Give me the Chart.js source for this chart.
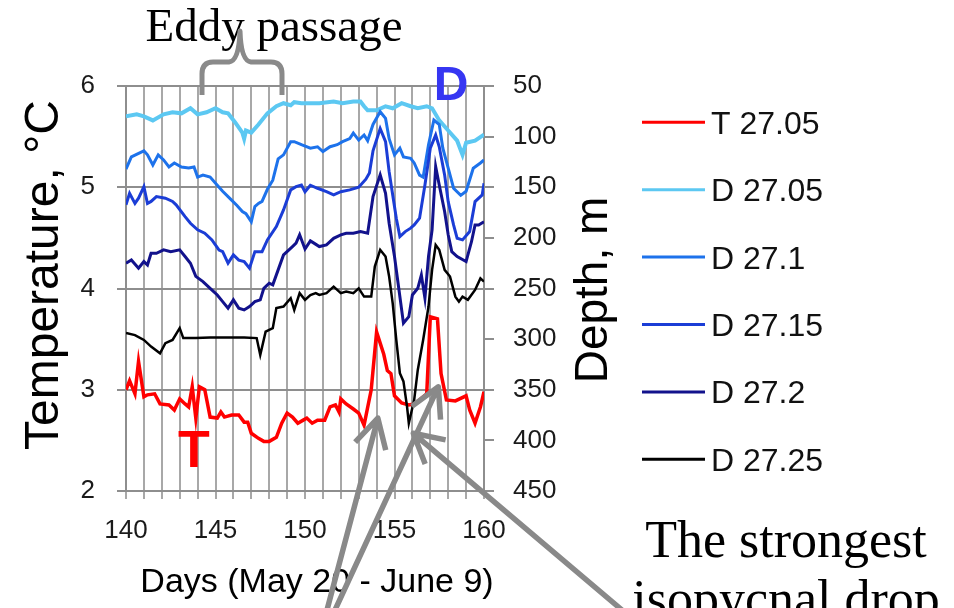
<!DOCTYPE html>
<html lang="en">
<head>
<meta charset="UTF-8">
<title>Isopycnal depths and temperature, days 140-160</title>
<script src="https://cdn.jsdelivr.net/npm/chart.js"></script>
<style>
  body { margin: 0; background: #fff; }
  #wrap { width: 954px; height: 608px; }
</style>
</head>
<body>
<div id="wrap"><canvas id="chart" width="954" height="608"></canvas></div>
<script>
// [day, value] pairs. Temperature on the 27.05 isopycnal (°C)
const t2705 = [
  [140.0, 3.00], [140.2, 3.09], [140.5, 2.96], [140.7, 3.28], [141.0, 2.93], [141.2, 2.95],
  [141.6, 2.96], [141.9, 2.86], [142.4, 2.85], [142.7, 2.80], [143.0, 2.91], [143.3, 2.86],
  [143.5, 2.83], [143.7, 3.03], [143.9, 2.72], [144.1, 3.03], [144.4, 3.00], [144.7, 2.73],
  [145.1, 2.72], [145.3, 2.78], [145.5, 2.73], [145.9, 2.75], [146.3, 2.75], [146.6, 2.68],
  [146.8, 2.68], [147.0, 2.57], [147.4, 2.52], [147.7, 2.49], [148.0, 2.49], [148.4, 2.53],
  [148.7, 2.67], [149.0, 2.77], [149.3, 2.73], [149.6, 2.67], [149.9, 2.70], [150.1, 2.72],
  [150.4, 2.67], [150.7, 2.70], [151.1, 2.70], [151.4, 2.83], [151.7, 2.85], [151.9, 2.78],
  [152.0, 2.91], [152.3, 2.86], [152.7, 2.81], [153.0, 2.77], [153.3, 2.65], [153.7, 3.00],
  [154.0, 3.57], [154.4, 3.35], [154.6, 3.19], [154.8, 3.16], [155.0, 2.94], [155.4, 2.87],
  [155.8, 2.85], [156.1, 2.86], [156.4, 2.90], [156.8, 2.96], [157.0, 3.72], [157.4, 3.70],
  [157.6, 3.16], [157.9, 2.90], [158.4, 2.89], [159.0, 2.94], [159.2, 2.80], [159.5, 2.67],
  [159.8, 2.83], [160.0, 2.98]
];

// Isopycnal depths (m)
const d2705 = [
  [140.0, 80], [140.6, 78], [141.0, 80], [141.5, 84], [142.1, 78], [142.6, 76], [143.1, 77],
  [143.6, 72], [144.0, 78], [144.5, 76], [145.0, 72], [145.4, 76], [145.7, 77], [146.1, 86],
  [146.5, 96], [146.6, 102], [146.7, 94], [147.0, 96], [147.4, 88], [147.9, 77], [148.4, 70],
  [148.8, 67], [149.2, 69], [149.4, 66], [149.8, 67], [150.3, 67], [150.8, 67],
  [151.6, 65.4], [152.1, 67], [152.7, 65.4], [153.1, 65.4], [153.3, 70], [153.5, 74],
  [154.0, 74], [154.5, 70], [154.9, 72], [155.4, 67], [155.9, 70], [156.3, 72], [156.8, 70],
  [157.1, 72], [157.5, 84], [158.0, 94], [158.5, 104], [158.8, 118], [159.0, 106], [159.5, 104],
  [160.0, 98]
];

const d2710 = [
  [140.0, 132], [140.3, 120], [141.0, 114], [141.2, 118], [141.5, 128], [141.8, 118], [142.1, 123],
  [142.4, 130], [142.7, 126], [143.1, 130], [143.5, 131], [143.8, 130], [144.0, 140], [144.3, 138],
  [144.7, 140], [145.1, 148], [145.4, 154], [145.8, 161], [146.2, 168], [146.5, 174],
  [146.7, 176], [147.0, 184], [147.2, 169], [147.4, 166], [147.6, 164], [147.9, 152],
  [148.2, 143], [148.5, 122], [148.8, 118], [149.2, 105], [149.4, 105], [149.8, 108],
  [150.3, 111.4], [150.7, 110], [151.0, 114.8], [151.4, 110], [151.8, 108], [152.1, 105],
  [152.5, 102], [152.7, 96.6], [153.0, 103.4], [153.3, 98.4], [153.5, 104], [153.8, 88],
  [154.2, 75.4], [154.5, 82], [154.7, 102], [155.0, 118], [155.3, 111.4], [155.5, 120],
  [155.9, 121.4], [156.1, 126], [156.4, 138], [156.6, 140], [156.9, 108], [157.2, 83.6],
  [157.5, 88], [157.7, 111.4], [158.0, 131.2], [158.3, 151], [158.7, 158], [159.0, 154],
  [159.4, 131.2], [159.8, 126], [160.0, 123]
];

const d2715 = [
  [140.0, 167.4], [140.2, 156], [140.5, 166], [140.7, 160.8], [141.0, 149.4], [141.2, 166],
  [141.4, 164], [141.7, 159.2], [142.2, 160.8], [142.6, 164], [142.8, 167.4], [143.3, 179],
  [143.6, 185.6], [144.0, 192], [144.4, 195.4], [144.8, 202], [145.2, 212], [145.4, 213.6],
  [145.7, 225], [146.0, 216.8], [146.3, 222], [146.6, 223.4], [146.9, 230], [147.2, 213.6],
  [147.6, 213.6], [147.9, 202], [148.4, 188.8], [148.8, 172.4], [149.2, 152.6], [149.5, 149.4],
  [149.8, 147.8], [150.0, 154.4], [150.3, 148], [150.7, 151], [151.2, 154.4], [151.6, 157.6],
  [152.0, 154.4], [152.5, 152.6], [153.0, 150], [153.4, 142], [153.6, 136], [153.8, 114],
  [154.2, 92], [154.5, 105], [154.7, 134.6], [154.9, 157.6], [155.1, 180.6], [155.3, 198.8],
  [155.6, 193.8], [155.9, 190.4], [156.1, 187.2], [156.4, 180.6], [156.7, 147.8], [157.0, 111.4],
  [157.3, 98.4], [157.5, 110], [157.8, 137.8], [158.0, 164.2], [158.3, 187.2], [158.5, 200.4],
  [158.8, 202], [159.2, 193.8], [159.5, 164.2], [159.9, 157.6], [160.0, 146]
];

const d2720 = [
  [140.0, 225], [140.3, 221.8], [140.7, 230], [141.0, 223.4], [141.2, 226.8], [141.4, 215.2],
  [141.7, 215.2], [142.1, 211.8], [142.5, 213.6], [143.0, 211.8], [143.3, 218.4], [143.6, 225],
  [143.9, 238], [144.3, 243.2], [144.7, 249.8], [145.1, 256.4], [145.4, 263], [145.7, 269.4],
  [146.0, 261.2], [146.3, 269.4], [146.6, 271.2], [146.9, 267.8], [147.2, 263], [147.5, 261.2],
  [147.7, 249.8], [148.0, 244.8], [148.2, 246.4], [148.5, 231.6], [148.8, 216.8], [149.3, 208.6],
  [149.5, 205.2], [149.7, 197], [150.0, 211], [150.3, 203], [150.5, 205.2], [150.8, 208.6],
  [151.2, 207], [151.6, 200.4], [152.0, 197], [152.3, 195.4], [152.7, 195.4], [153.1, 193.8],
  [153.5, 195.4], [153.8, 159.2], [154.2, 137.8], [154.5, 156], [154.7, 185.6], [155.0, 218.4],
  [155.2, 244.8], [155.5, 284.2], [155.8, 277.8], [156.0, 256.4], [156.3, 249.8], [156.5, 236.6],
  [156.7, 259.6], [156.9, 218.4], [157.1, 192.2], [157.3, 129.6], [157.5, 147.8], [157.8, 174],
  [158.0, 197], [158.2, 213.6], [158.5, 218.4], [159.0, 223.4], [159.3, 203.8], [159.5, 187.2],
  [159.7, 187.2], [160.0, 184]
];

const d2725 = [
  [140.0, 294], [140.5, 296], [141.0, 300.8], [141.4, 307.4], [141.9, 314], [142.2, 304],
  [142.6, 300.8], [143.0, 289.2], [143.2, 299], [143.9, 299], [144.7, 298.4], [146.6, 298.4],
  [147.3, 299], [147.5, 315.6], [147.8, 292.6], [148.0, 290.8], [148.2, 289.2], [148.4, 269.4],
  [148.8, 267.8], [149.2, 259.6], [149.4, 271.2], [149.7, 254.6], [150.0, 261.2], [150.3, 256.4],
  [150.6, 254.6], [150.8, 256.4], [151.2, 254.6], [151.6, 248.2], [152.0, 254.6], [152.3, 253],
  [152.7, 254.6], [153.0, 249.8], [153.3, 258], [153.7, 258], [153.9, 228.4], [154.2, 211.8],
  [154.5, 218.4], [154.7, 238.2], [154.9, 264.6], [155.1, 300.8], [155.3, 333.6], [155.5, 341.8],
  [155.7, 366.6], [155.8, 383], [156.1, 360], [156.3, 330.4], [156.6, 300.8], [156.9, 267.8],
  [157.1, 231.6], [157.3, 207], [157.5, 211.8], [157.8, 231.6], [158.1, 238.2], [158.4, 258],
  [158.6, 263], [158.8, 258], [159.1, 261.2], [159.5, 251.4], [159.8, 240], [160.0, 243.2]
];

const seriesLabels = ['T 27.05', 'D 27.05', 'D 27.1', 'D 27.15', 'D 27.2', 'D 27.25'];
const seriesData = [t2705, d2705, d2710, d2715, d2720, d2725];
const seriesColors = ['#ff0000', '#5cc8f2', '#1d72eb', '#1b3dd6', '#12128c', '#000000'];
const seriesWidths = [3.5, 4, 3, 3, 3, 2.5];

const SANS = '"Liberation Sans", Arial, sans-serif';
const SERIF = '"Liberation Serif", "Times New Roman", serif';
Chart.defaults.font.family = SANS;
Chart.defaults.color = '#1a1a1a';

// titles, legend and the hand-drawn notes around the plot
const overlay = {
  id: 'overlay',
  afterDraw(chart) {
    const { ctx, scales: { x, yT } } = chart;
    ctx.save();
    ctx.fillStyle = '#000';

    // axis titles
    ctx.font = '34px ' + SANS;
    ctx.textAlign = 'center';
    ctx.textBaseline = 'alphabetic';
    ctx.fillText('Days (May 20 - June 9)', 317, 592);

    ctx.font = '48px ' + SANS;
    ctx.save();
    ctx.translate(58, 275);
    ctx.rotate(-Math.PI / 2);
    ctx.fillText('Temperature, °C', 0, 0);
    ctx.restore();

    ctx.font = '46px ' + SANS;
    ctx.save();
    ctx.translate(607, 290);
    ctx.rotate(-Math.PI / 2);
    ctx.fillText('Depth, m', 0, 0);
    ctx.restore();

    // legend
    ctx.font = '32px ' + SANS;
    ctx.textAlign = 'left';
    chart.data.datasets.forEach((ds, i) => {
      const y = 122.3 + i * 67.4;
      ctx.strokeStyle = ds.borderColor;
      ctx.lineWidth = 3;
      ctx.beginPath();
      ctx.moveTo(642, y);
      ctx.lineTo(705, y);
      ctx.stroke();
      ctx.fillStyle = '#111';
      ctx.fillText(ds.label, 711, y + 11.5);
    });

    // "Eddy passage" with its brace
    ctx.fillStyle = '#000';
    ctx.textAlign = 'center';
    ctx.font = '47px ' + SERIF;
    ctx.fillText('Eddy passage', 274, 41);

    ctx.strokeStyle = '#8a8a8a';
    ctx.lineWidth = 5;
    ctx.lineJoin = 'round';
    ctx.beginPath();
    ctx.moveTo(202, 95);
    ctx.lineTo(202, 74);
    ctx.quadraticCurveTo(202, 62, 213, 62);
    ctx.lineTo(229, 62);
    ctx.quadraticCurveTo(239, 61, 240, 31);
    ctx.quadraticCurveTo(241, 61, 251, 62);
    ctx.lineTo(271, 62);
    ctx.quadraticCurveTo(282, 62, 282, 74);
    ctx.lineTo(282, 95);
    ctx.stroke();

    // series markers
    ctx.font = 'bold 48px ' + SANS;
    ctx.fillStyle = '#3636f2';
    ctx.fillText('D', 451, 100);
    ctx.font = 'bold 52px ' + SANS;
    ctx.fillStyle = '#ff0000';
    ctx.fillText('T', 194, 467);

    // note on the right
    ctx.fillStyle = '#000';
    ctx.font = '52px ' + SERIF;
    ctx.fillText('The strongest', 786, 557);
    ctx.fillText('isopycnal drop', 786, 616);

    // arrows to the temperature peaks and the deepest dip
    const arrow = (x0, y0, x1, y1) => {
      const ang = Math.atan2(y1 - y0, x1 - x0);
      const head = 33, spread = 0.5;
      ctx.beginPath();
      ctx.moveTo(x0, y0);
      ctx.lineTo(x1, y1);
      ctx.moveTo(x1 - head * Math.cos(ang - spread), y1 - head * Math.sin(ang - spread));
      ctx.lineTo(x1, y1);
      ctx.lineTo(x1 - head * Math.cos(ang + spread), y1 - head * Math.sin(ang + spread));
      ctx.stroke();
    };
    ctx.strokeStyle = '#898989';
    ctx.lineWidth = 5.5;
    arrow(327, 610, x.getPixelForValue(154.07), yT.getPixelForValue(2.72));
    arrow(335, 610, x.getPixelForValue(157.45), yT.getPixelForValue(3.03));
    arrow(622, 610, x.getPixelForValue(156.05), yT.getPixelForValue(2.57));

    ctx.restore();
  }
};

new Chart(document.getElementById('chart'), {
  type: 'line',
  data: {
    datasets: seriesLabels.map((label, i) => ({
      label,
      data: seriesData[i].map(([d, v]) => ({ x: d, y: v })),
      yAxisID: i === 0 ? 'yT' : 'yD',
      borderColor: seriesColors[i],
      borderWidth: seriesWidths[i],
      pointRadius: 0,
      tension: 0,
      fill: false,
      order: seriesLabels.length - i
    }))
  },
  options: {
    responsive: false,
    animation: false,
    devicePixelRatio: 1,
    layout: { padding: { top: 86, right: 340, bottom: 0, left: 0 } },
    plugins: { legend: { display: false }, tooltip: { enabled: false } },
    scales: {
      x: {
        type: 'linear',
        min: 140,
        max: 160,
        ticks: {
          stepSize: 1,
          autoSkip: false,
          maxRotation: 0,
          padding: 16,
          font: { size: 26 },
          callback: v => (v % 5 === 0 ? v : '')
        },
        grid: { color: '#a8a8a8', lineWidth: 2, tickLength: 8 },
        border: { color: '#8e8e8e', width: 2 },
        afterFit: s => { s.height = 117; }
      },
      yT: {
        position: 'left',
        min: 2,
        max: 6,
        ticks: { stepSize: 1, padding: 22, font: { size: 26 } },
        grid: { color: '#8e8e8e', lineWidth: 2, tickLength: 9 },
        border: { color: '#8e8e8e', width: 2 },
        afterFit: s => { s.width = 126; }
      },
      yD: {
        position: 'right',
        min: 50,
        max: 450,
        reverse: true,
        ticks: { stepSize: 50, padding: 19, font: { size: 26 } },
        grid: { drawOnChartArea: false, color: '#8e8e8e', lineWidth: 2, tickLength: 10 },
        border: { color: '#8e8e8e', width: 2 },
        afterFit: s => { s.width = 130; }
      }
    }
  },
  plugins: [overlay]
});
</script>
</body>
</html>
